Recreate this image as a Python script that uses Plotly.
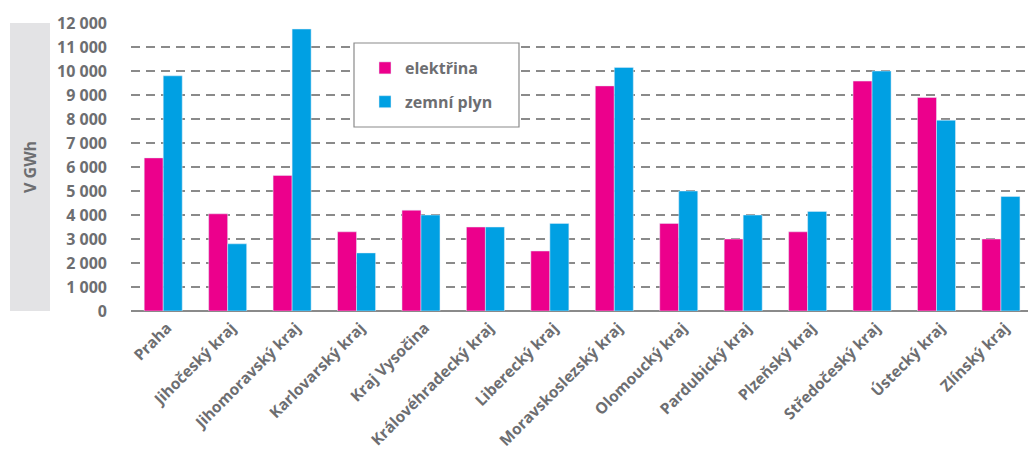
import plotly.graph_objects as go

categories = ["Praha", "Jihočeský kraj", "Jihomoravský kraj", "Karlovarský kraj", "Kraj Vysočina",
              "Královéhradecký kraj", "Liberecký kraj", "Moravskoslezský kraj", "Olomoucký kraj",
              "Pardubický kraj", "Plzeňský kraj", "Středočeský kraj", "Ústecký kraj", "Zlínský kraj"]
elektrina = [6380, 4050, 5650, 3300, 4200, 3500, 2500, 9380, 3650, 3000, 3300, 9580, 8900, 3000]
zemni_plyn = [9800, 2800, 11750, 2420, 4000, 3500, 3650, 10150, 5000, 4000, 4150, 10000, 7950, 4770]
ytick_vals = list(range(0, 12001, 1000))
ytick_text = ["0", "1 000", "2 000", "3 000", "4 000", "5 000", "6 000", "7 000", "8 000",
              "9 000", "10 000", "11 000", "12 000"]

GRAY = "#6d6e71"
FONT = "Open Sans"
WT = 700
FS = 16

fig = go.Figure()
fig.add_trace(go.Bar(x=categories, y=elektrina, name="elektřina", marker_color="#ec008c",
                     legendgroup="a"))
fig.add_trace(go.Bar(x=categories, y=zemni_plyn, name="zemní plyn", marker_color="#00a0e3",
                     legendgroup="b"))

L, R, T, B = 131, 0, 23, 145
W, H = 1028, 456
pw = W - L - R
ph = H - T - B

fig.update_layout(
    width=W, height=H,
    margin=dict(l=L, r=R, t=T, b=B, autoexpand=False),
    paper_bgcolor="white", plot_bgcolor="white",
    barmode="group", bargap=0.41, bargroupgap=0,
    font=dict(family=FONT, size=FS, color=GRAY, weight=WT),
    showlegend=True,
    legend=dict(x=(365 - L) / pw, y=(311 - 51) / ph, xanchor="left", yanchor="top",
                bgcolor="rgba(0,0,0,0)", borderwidth=0, traceorder="grouped",
                tracegroupgap=10, font=dict(family=FONT, size=FS, color=GRAY, weight=WT)),
    xaxis=dict(range=[-0.5, 13.42], tickangle=-45, showgrid=False, showline=False,
               ticks="", automargin=False, ticklabelshift=4, ticklabelstandoff=4,
               tickfont=dict(family=FONT, size=15.5, color=GRAY, weight=WT)),
    yaxis=dict(range=[0, 12000], tickvals=ytick_vals, ticktext=ytick_text,
               showgrid=True, gridcolor="#8a8a8a", griddash="9px,6px", gridwidth=1.5,
               zeroline=True, zerolinecolor="#8a8a8a", zerolinewidth=2,
               ticklabelstandoff=23, automargin=False,
               tickfont=dict(family=FONT, size=FS, color=GRAY, weight=WT)),
    shapes=[
        dict(type="rect", xref="paper", yref="paper",
             x0=(10 - L) / pw, x1=(50 - L) / pw, y0=0, y1=1,
             fillcolor="#e3e3e5", line=dict(width=0), layer="below"),
        dict(type="rect", xref="paper", yref="paper",
             x0=(354 - L) / pw, x1=(519 - L) / pw, y0=(311 - 127) / ph, y1=(311 - 43) / ph,
             fillcolor="white", line=dict(color="#8a8a8a", width=1.2), layer="above"),
    ],
    annotations=[
        dict(text="V GWh", xref="paper", yref="paper", x=(30 - L) / pw, y=0.5,
             textangle=-90, showarrow=False, xanchor="center", yanchor="middle",
             font=dict(family=FONT, size=FS, color=GRAY, weight=WT)),
    ],
)

fig.write_html("out.html", config={"displayModeBar": False},
               post_script="document.body.style.margin='0';document.body.style.padding='0';")
